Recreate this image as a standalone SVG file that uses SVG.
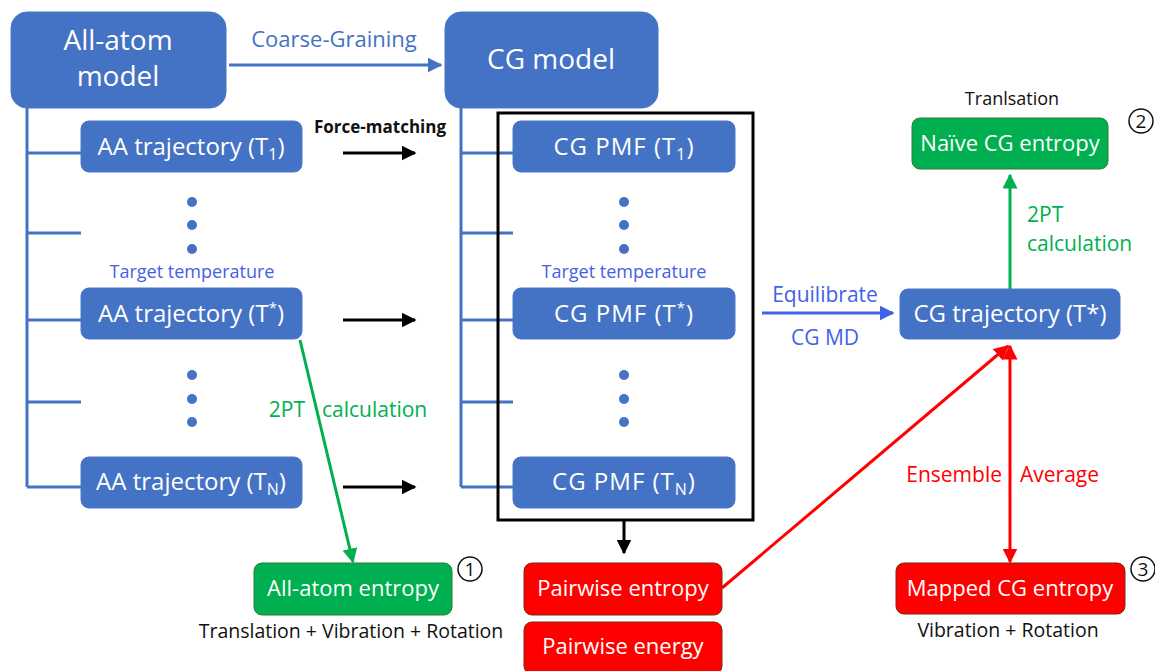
<svg xmlns="http://www.w3.org/2000/svg" width="1155" height="671" viewBox="0 0 1155 671">
<defs>
<marker id="ab" viewBox="0 0 10 10" refX="9" refY="5" markerWidth="5" markerHeight="5" orient="auto-start-reverse" markerUnits="strokeWidth"><path d="M0,0 L10,5 L0,10 z" fill="#4472C4"/></marker>
<marker id="ak" viewBox="0 0 10 10" refX="9" refY="5" markerWidth="5" markerHeight="5" orient="auto-start-reverse" markerUnits="strokeWidth"><path d="M0,0 L10,5 L0,10 z" fill="#000"/></marker>
<marker id="ag" viewBox="0 0 10 10" refX="9" refY="5" markerWidth="5" markerHeight="5" orient="auto-start-reverse" markerUnits="strokeWidth"><path d="M0,0 L10,5 L0,10 z" fill="#00B050"/></marker>
<marker id="ar" viewBox="0 0 10 10" refX="9" refY="5" markerWidth="5" markerHeight="5" orient="auto-start-reverse" markerUnits="strokeWidth"><path d="M0,0 L10,5 L0,10 z" fill="#FF0000"/></marker>
<marker id="ab2" viewBox="0 0 10 10" refX="9" refY="5" markerWidth="5" markerHeight="5" orient="auto-start-reverse" markerUnits="strokeWidth"><path d="M0,0 L10,5 L0,10 z" fill="#3F62E6"/></marker>
</defs>
<style>
text{font-family:"Open Sans",Lato,"Liberation Sans",sans-serif}
.blue{fill:#4472C4;stroke:#4A78C8;stroke-width:1}
.green{fill:#00B050;stroke:#2E7D32;stroke-width:1}
.red{fill:#FF0000;stroke:#7A2A10;stroke-width:1}
.wt{fill:#fff;font-size:22px;text-anchor:middle}
.wb{fill:#fff;font-size:24px;text-anchor:middle}
.big{fill:#fff;font-size:28px;text-anchor:middle}
.tree{stroke:#4472C4;stroke-width:3;fill:none}
.dot{fill:#4472C4}
.tt{fill:#3F62E6;font-size:18px;text-anchor:middle}
.bk{fill:#111;font-size:19.5px;text-anchor:middle}
.gl{fill:#00B050;font-size:21px}
.rl{fill:#FF0000;font-size:21px}
.bl{fill:#3F62E6;font-size:21px;text-anchor:middle}
.circ{fill:none;stroke:#111;stroke-width:1.5}
.cn{fill:#111;font-size:19px;text-anchor:middle}
</style>

<g id="connectors">
<path class="tree" d="M27,108 V487 M27,153 H81 M27,233 H81 M27,320 H81 M27,402 H81 M27,487 H81"/>
<path class="tree" d="M461,108 V487 M461,153 H513 M461,233 H513 M461,320 H513 M461,402 H513 M461,487 H513"/>
<line x1="229" y1="65" x2="441" y2="65" stroke="#4472C4" stroke-width="3" marker-end="url(#ab)"/>
<text x="334" y="47" font-size="22" fill="#4472C4" text-anchor="middle">Coarse-Graining</text>
<text x="380" y="133" fill="#111" font-size="17" text-anchor="middle" font-weight="bold">Force-matching</text>
<line x1="343" y1="153" x2="415" y2="153" stroke="#000" stroke-width="3" marker-end="url(#ak)"/>
<line x1="343" y1="320" x2="415" y2="320" stroke="#000" stroke-width="3" marker-end="url(#ak)"/>
<line x1="343" y1="487" x2="415" y2="487" stroke="#000" stroke-width="3" marker-end="url(#ak)"/>
<rect x="498" y="113" width="255" height="407" fill="none" stroke="#000" stroke-width="3"/>
<line x1="624" y1="520" x2="624" y2="553" stroke="#000" stroke-width="3" marker-end="url(#ak)"/>
<line x1="300" y1="340" x2="353" y2="562" stroke="#00B050" stroke-width="3" marker-end="url(#ag)"/>
<text x="305" y="417" class="gl" text-anchor="end">2PT</text>
<text x="322" y="417" class="gl">calculation</text>
<line x1="762" y1="313" x2="893" y2="313" stroke="#3F62E6" stroke-width="3" marker-end="url(#ab2)"/>
<text x="825" y="302" class="bl">Equilibrate</text>
<text x="825" y="345" class="bl">CG MD</text>
<line x1="1010" y1="289" x2="1010" y2="175" stroke="#00B050" stroke-width="3" marker-end="url(#ag)"/>
<text x="1027" y="222" class="gl">2PT</text>
<text x="1027" y="251" class="gl">calculation</text>
<line x1="722" y1="588" x2="1008" y2="346" stroke="#FF0000" stroke-width="3" marker-end="url(#ar)"/>
<line x1="1010" y1="346" x2="1010" y2="562" stroke="#FF0000" stroke-width="3" marker-start="url(#ar)" marker-end="url(#ar)"/>
<text x="1002" y="482" class="rl" text-anchor="end">Ensemble</text>
<text x="1020" y="482" class="rl">Average</text>
</g>

<g id="all-atom-model"><rect class="blue" x="11" y="12" width="215" height="96" rx="16"/><text class="big" x="118" y="50">All-atom</text><text class="big" x="118" y="86">model</text></g>
<g id="cg-model"><rect class="blue" x="445" y="12" width="213" height="96" rx="16"/><text class="big" x="551" y="69">CG model</text></g>

<g id="aa-t1"><rect class="blue" x="81" y="121" width="221" height="51" rx="8"/><text class="wb" x="191" y="155">AA trajectory (T<tspan font-size="16" dy="5">1</tspan><tspan dy="-5">)</tspan></text></g>
<g id="aa-dots1"><circle class="dot" cx="192" cy="202" r="5"/><circle class="dot" cx="192" cy="225" r="5"/><circle class="dot" cx="192" cy="249" r="5"/><text class="tt" x="192" y="278">Target temperature</text></g>
<g id="aa-tstar"><rect class="blue" x="81" y="288" width="221" height="51" rx="8"/><text class="wb" x="191" y="322">AA trajectory (T<tspan font-size="15" dy="-9">*</tspan><tspan dy="9">)</tspan></text></g>
<g id="aa-dots2"><circle class="dot" cx="192" cy="375" r="5"/><circle class="dot" cx="192" cy="399" r="5"/><circle class="dot" cx="192" cy="422" r="5"/></g>
<g id="aa-tn"><rect class="blue" x="81" y="457" width="221" height="51" rx="8"/><text class="wb" x="191" y="490">AA trajectory (T<tspan font-size="16" dy="5">N</tspan><tspan dy="-5">)</tspan></text></g>

<g id="cg-t1"><rect class="blue" x="513" y="121" width="222" height="51" rx="8"/><text class="wb" x="624" y="155" letter-spacing="1">CG PMF (T<tspan font-size="16" dy="5">1</tspan><tspan dy="-5">)</tspan></text></g>
<g id="cg-dots1"><circle class="dot" cx="624" cy="202" r="5"/><circle class="dot" cx="624" cy="225" r="5"/><circle class="dot" cx="624" cy="249" r="5"/><text class="tt" x="624" y="278">Target temperature</text></g>
<g id="cg-tstar"><rect class="blue" x="513" y="288" width="222" height="51" rx="8"/><text class="wb" x="624" y="322" letter-spacing="1">CG PMF (T<tspan font-size="15" dy="-9">*</tspan><tspan dy="9">)</tspan></text></g>
<g id="cg-dots2"><circle class="dot" cx="624" cy="375" r="5"/><circle class="dot" cx="624" cy="399" r="5"/><circle class="dot" cx="624" cy="422" r="5"/></g>
<g id="cg-tn"><rect class="blue" x="513" y="457" width="222" height="51" rx="8"/><text class="wb" x="624" y="490" letter-spacing="1">CG PMF (T<tspan font-size="16" dy="5">N</tspan><tspan dy="-5">)</tspan></text></g>

<g id="cg-trajectory"><rect class="blue" x="900" y="289" width="220" height="50" rx="8"/><text class="wb" x="1010" y="322">CG trajectory (T*)</text></g>
<g id="naive-cg-entropy"><text x="1012" y="105" fill="#111" font-size="18" text-anchor="middle">Tranlsation</text><rect class="green" x="912" y="118" width="196" height="51" rx="8"/><text class="wt" x="1010" y="151">Naïve CG entropy</text><circle class="circ" cx="1141" cy="121" r="12"/><text class="cn" x="1141" y="128">2</text></g>
<g id="all-atom-entropy"><rect class="green" x="254" y="563" width="198" height="52" rx="8"/><text class="wt" x="353" y="596">All-atom entropy</text><circle class="circ" cx="470" cy="569" r="12"/><text class="cn" x="470" y="576">1</text><text class="bk" x="351" y="638">Translation + Vibration + Rotation</text></g>
<g id="pairwise-entropy"><rect class="red" x="524" y="563" width="198" height="52" rx="8"/><text class="wt" x="623" y="596">Pairwise entropy</text></g>
<g id="pairwise-energy"><rect class="red" x="524" y="622" width="198" height="52" rx="8"/><text class="wt" x="623" y="654">Pairwise energy</text></g>
<g id="mapped-cg-entropy"><rect class="red" x="896" y="563" width="229" height="51" rx="8"/><text class="wt" x="1010" y="596">Mapped CG entropy</text><circle class="circ" cx="1143" cy="569" r="12"/><text class="cn" x="1143" y="576">3</text><text class="bk" x="1008" y="637">Vibration + Rotation</text></g>
</svg>
